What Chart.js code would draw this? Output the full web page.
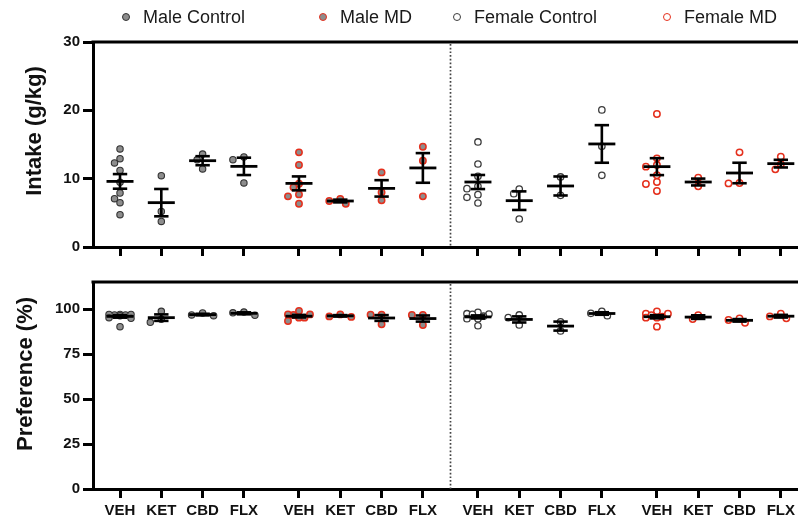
<!DOCTYPE html>
<html><head><meta charset="utf-8">
<script src="https://cdn.jsdelivr.net/npm/chart.js@4.4.1/dist/chart.umd.min.js"></script>
<style>
html,body{margin:0;padding:0;background:#fff;}
#wrap{position:relative;width:798px;height:519px;overflow:hidden;font-family:"Liberation Sans",Arial,sans-serif;}
canvas{position:absolute;left:0;}
.lg{position:absolute;top:6px;font-size:18px;color:#1a1a1a;line-height:22px;white-space:nowrap;}
.dot{position:absolute;top:13px;width:8px;height:8px;border-radius:50%;box-sizing:border-box;}
.yt{position:absolute;font-weight:bold;font-size:22px;color:#111;white-space:nowrap;transform:translate(-50%,-50%) rotate(-90deg);}
</style></head>
<body><div id="wrap">
<canvas id="top" width="798" height="270" style="top:0"></canvas>
<canvas id="bot" width="798" height="249" style="top:270px"></canvas>
<div id="legend"></div>
<div class="yt" style="left:34px;top:131px">Intake (g/kg)</div>
<div class="yt" style="left:25px;top:374px">Preference (%)</div>
</div>
<script>
// ---------- DATA ----------
const drugs = ['VEH', 'KET', 'CBD', 'FLX'];
const seriesNames = ['Male Control', 'Male MD', 'Female Control', 'Female MD'];
const intakeTicks = [0, 10, 20, 30];
const prefTicks = [0, 25, 50, 75, 100];

// Intake (g/kg): individual points per drug [VEH, KET, CBD, FLX]
const intakeMaleControl = [[14.35, 12.93, 12.3, 11.2, 9.46, 7.9, 7.07, 6.48, 4.73], [10.44, 5.21, 3.75], [13.6, 12.78, 11.42], [13.18, 12.78, 9.37]];
const intakeMaleMD = [[13.85, 12.0, 9.27, 8.73, 7.7, 7.41, 6.34], [6.34, 7.03, 6.73], [10.92, 8.0, 6.83], [14.68, 12.64, 7.41]];
const intakeFemaleControl = [[15.37, 12.15, 10.34, 8.88, 8.54, 7.66, 7.27, 6.44], [8.49, 7.8, 4.1], [10.25, 7.56], [20.06, 14.73, 10.49]];
const intakeFemaleMD = [[19.47, 12.97, 12.0, 11.76, 10.49, 9.51, 9.22, 8.2], [10.15, 8.88], [13.85, 9.31, 9.37], [13.22, 12.1, 11.36]];
// Intake means and SEMs
const intakeMeanMaleControl = [9.6, 6.49, 12.63, 11.8];
const intakeSemMaleControl = [1.07, 2.0, 0.66, 1.27];
const intakeMeanMaleMD = [9.31, 6.73, 8.58, 11.57];
const intakeSemMaleMD = [1.02, 0.2, 1.2, 2.17];
const intakeMeanFemaleControl = [9.51, 6.78, 8.93, 15.08];
const intakeSemFemaleControl = [1.03, 1.36, 1.39, 2.75];
const intakeMeanFemaleMD = [11.76, 9.51, 10.83, 12.2];
const intakeSemFemaleMD = [1.24, 0.5, 1.5, 0.56];

// Preference (%): individual points
const prefMaleControl = [[97.0, 96.7, 97.0, 96.7, 97.0, 96.3, 95.2, 94.8, 90.2], [98.7, 94.3, 92.6], [96.3, 97.8, 96.7], [96.5, 98.3, 97.9]];
const prefMaleMD = [[95.2, 96.7, 98.9, 95.2, 97.0, 97.0, 93.3], [95.6, 97.0, 95.9], [96.8, 96.8, 91.5], [96.7, 96.7, 91.1]];
const prefFemaleControl = [[97.2, 98.1, 94.6, 97.4, 94.6, 97.0, 90.7, 96.0], [96.7, 95.2, 91.1], [92.9, 87.8], [96.3, 98.7, 97.6]];
const prefFemaleMD = [[97.4, 98.7, 95.7, 95.2, 95.2, 97.4, 90.2, 96.5], [94.4, 96.5], [92.4, 94.8, 93.9], [94.8, 97.4, 95.9]];
// Preference means and SEMs
const prefMeanMaleControl = [95.9, 95.2, 96.9, 97.6];
const prefSemMaleControl = [0.7, 1.8, 0.45, 0.55];
const prefMeanMaleMD = [96.0, 96.2, 95.0, 94.7];
const prefSemMaleMD = [0.7, 0.4, 1.6, 1.7];
const prefMeanFemaleControl = [95.6, 94.2, 90.5, 97.5];
const prefSemFemaleControl = [0.85, 1.7, 2.5, 0.7];
const prefMeanFemaleMD = [95.7, 95.5, 93.7, 96.0];
const prefSemFemaleMD = [0.9, 1.0, 0.7, 0.75];

// ---------- STYLE / LAYOUT ----------
const GRAY = '#8d8d8d', DARK = '#333333', RED = '#e5301d';
const seriesStyle = [
  {bg: GRAY, border: DARK, bw: 1.1},
  {bg: GRAY, border: RED, bw: 1.5},
  {bg: '#ffffff', border: '#3c3c3c', bw: 1.3},
  {bg: '#ffffff', border: RED, bw: 1.5}
];
const GROUP_GAP = 1 / 3;
const xPos = (g, i) => g * (drugs.length + GROUP_GAP) + i;
const tickPositions = [];
const tickLabels = [];
seriesNames.forEach((s, g) => drugs.forEach((d, i) => { tickPositions.push(xPos(g, i)); tickLabels.push(d); }));
const dividerX = (xPos(1, drugs.length - 1) + xPos(2, 0)) / 2;

// legend (HTML)
const legendX = [126, 323, 457, 667];
const legendEl = document.getElementById('legend');
seriesNames.forEach((name, g) => {
  const st = seriesStyle[g];
  const dot = document.createElement('div');
  dot.className = 'dot';
  dot.style.left = (legendX[g] - 4) + 'px';
  dot.style.background = st.bg;
  dot.style.border = '1.3px solid ' + st.border;
  legendEl.appendChild(dot);
  const t = document.createElement('div');
  t.className = 'lg';
  t.style.left = (legendX[g] + 17) + 'px';
  t.textContent = name;
  legendEl.appendChild(t);
});

const tickFont = {family: "'Liberation Sans', Arial, sans-serif", weight: 'bold', size: 15};

const framePlugin = {
  id: 'frame',
  beforeDatasetsDraw(chart) {
    const {ctx, chartArea: a, scales: {x}} = chart;
    ctx.save();
    ctx.strokeStyle = '#000'; ctx.lineWidth = 3;
    ctx.beginPath(); ctx.moveTo(a.left - 1.5, a.top); ctx.lineTo(a.right, a.top); ctx.stroke();
    const dx = Math.round(x.getPixelForValue(dividerX)) + 0.5;
    ctx.strokeStyle = '#444'; ctx.lineWidth = 1.7; ctx.setLineDash([1.7, 2.0]);
    ctx.beginPath(); ctx.moveTo(dx, a.top + 2); ctx.lineTo(dx, a.bottom); ctx.stroke();
    ctx.restore();
  }
};

function buildDatasets(points, means, sems) {
  const ds = [];
  const stems = [], caps = [], meanPts = [];
  means.forEach((mArr, g) => mArr.forEach((m, i) => {
    const x = xPos(g, i), s = sems[g][i];
    stems.push({x, y: m - s}, {x, y: m + s}, {x, y: null});
    caps.push({x, y: m - s}, {x, y: m + s});
    meanPts.push({x, y: m});
  }));
  ds.push({type: 'line', data: stems, borderColor: '#000', borderWidth: 2.6, pointRadius: 0, spanGaps: false, clip: false});
  ds.push({type: 'scatter', data: caps, pointStyle: 'line', pointRadius: 7.2, borderColor: '#000', pointBorderWidth: 2.6, borderWidth: 2.6, clip: false});
  ds.push({type: 'scatter', data: meanPts, pointStyle: 'line', pointRadius: 13.5, borderColor: '#000', pointBorderWidth: 2.8, borderWidth: 2.8, clip: false});
  points.forEach((grp, g) => {
    const st = seriesStyle[g];
    const data = [];
    grp.forEach((vals, i) => vals.forEach(v => data.push({x: xPos(g, i), y: v, cx: xPos(g, i)})));
    ds.push({type: 'scatter', label: seriesNames[g], isPoints: true, data, pointRadius: 3.2, pointHoverRadius: 3.2,
      backgroundColor: st.bg, borderColor: st.border, pointBorderWidth: st.bw, borderWidth: st.bw, clip: false});
  });
  return ds;
}

// horizontal spreading of overlapping points (beeswarm, limited width)
function swarm(chart) {
  const xs = chart.scales.x, ys = chart.scales.y;
  const ppu = xs.getPixelForValue(1) - xs.getPixelForValue(0);
  const step = 5.5, minD = 6.5, maxOff = 11;
  const cands = [0];
  for (let k = 1; k * step <= maxOff + 0.01; k++) cands.push(-k * step, k * step);
  chart.data.datasets.forEach(ds => {
    if (!ds.isPoints) return;
    const groups = {};
    ds.data.forEach(p => { (groups[p.cx] = groups[p.cx] || []).push(p); });
    Object.values(groups).forEach(pts => {
      const placed = [];
      pts.slice().sort((a, b) => b.y - a.y).forEach(p => {
        const py = ys.getPixelForValue(p.y);
        let best = 0, bestD = -1;
        for (const off of cands) {
          const d = placed.length ? Math.min(...placed.map(q => Math.hypot(q.ox - off, q.py - py))) : Infinity;
          if (d >= minD) { best = off; bestD = d; break; }
          if (d > bestD + 0.5) { best = off; bestD = d; }
        }
        placed.push({ox: best, py});
        p.x = p.cx + best / ppu;
      });
    });
  });
  chart.update('none');
}

function makePanel(id, points, means, sems, yMax, yTicks, showLabels, padTop, xHeight) {
  const chart = new Chart(document.getElementById(id), {
    type: 'scatter',
    data: {datasets: buildDatasets(points, means, sems)},
    options: {
      responsive: false, animation: false, devicePixelRatio: 1,
      layout: {autoPadding: false, padding: {top: padTop, left: 0, right: 0, bottom: 0}},
      plugins: {legend: {display: false}, tooltip: {enabled: false}},
      events: [],
      scales: {
        x: {
          type: 'linear', min: -0.654, max: 16.416,
          afterBuildTicks: s => { s.ticks = tickPositions.map(v => ({value: v})); },
          afterFit: s => { s.height = xHeight; s.paddingLeft = 0; s.paddingRight = 0; },
          border: {display: true, color: '#000', width: 3},
          grid: {display: true, drawOnChartArea: false, drawTicks: true, tickLength: 9, tickWidth: 3, tickColor: '#000'},
          ticks: {display: showLabels, autoSkip: false, maxRotation: 0, padding: 4, color: '#111', font: tickFont,
            callback: (v, i) => tickLabels[i]}
        },
        y: {
          type: 'linear', min: 0, max: yMax,
          afterBuildTicks: s => { s.ticks = yTicks.map(v => ({value: v})); },
          afterFit: s => { s.width = 93; s.paddingTop = 0; s.paddingBottom = 0; },
          border: {display: true, color: '#000', width: 3},
          grid: {display: true, drawOnChartArea: false, drawTicks: true, tickLength: 10, tickWidth: 3, tickColor: '#000'},
          ticks: {padding: 3, color: '#111', font: tickFont}
        }
      }
    },
    plugins: [framePlugin]
  });
  swarm(chart);
  return chart;
}

makePanel('top',
  [intakeMaleControl, intakeMaleMD, intakeFemaleControl, intakeFemaleMD],
  [intakeMeanMaleControl, intakeMeanMaleMD, intakeMeanFemaleControl, intakeMeanFemaleMD],
  [intakeSemMaleControl, intakeSemMaleMD, intakeSemFemaleControl, intakeSemFemaleMD],
  30, intakeTicks, false, 42, 23);
makePanel('bot',
  [prefMaleControl, prefMaleMD, prefFemaleControl, prefFemaleMD],
  [prefMeanMaleControl, prefMeanMaleMD, prefMeanFemaleControl, prefMeanFemaleMD],
  [prefSemMaleControl, prefSemMaleMD, prefSemFemaleControl, prefSemFemaleMD],
  115, prefTicks, true, 12, 30);
</script>
</body></html>
